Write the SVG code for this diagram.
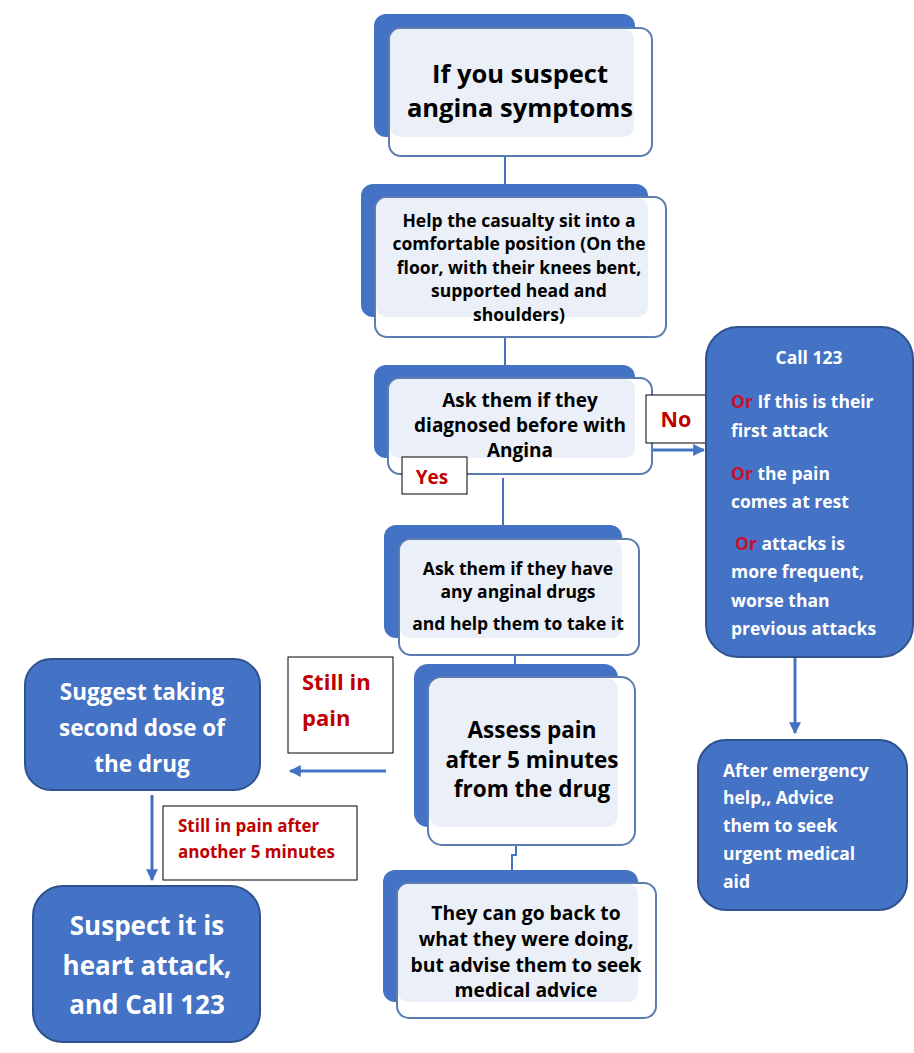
<svg xmlns="http://www.w3.org/2000/svg" width="914" height="1053" viewBox="0 0 914 1053">
<style>
text{font-family:"Open Sans",Lato,"Liberation Sans",sans-serif;font-weight:bold}
.back{fill:#4472C4}
.front{fill:#FFFFFF;stroke:#5B7DB1;stroke-width:2}
.inner{fill:#EAEFF8}
.dark{fill:#000000;text-anchor:middle}
.blue{fill:#4472C4;stroke:#2F528F;stroke-width:2}
.wt{fill:#FFFFFF}
.wtc{fill:#FFFFFF;text-anchor:middle}
.red{fill:#C00000}
.or{fill:#C8102E}
.lbl{fill:#FFFFFF;stroke:#000000;stroke-width:1}
.con{fill:none;stroke:#4472C4;stroke-width:3}
.thin{fill:none;stroke:#4472C4;stroke-width:2}
</style>
<defs>
<marker id="ah" viewBox="0 0 10 10" refX="9" refY="5" markerWidth="4" markerHeight="4" orient="auto" markerUnits="strokeWidth">
<path d="M0,0 L10,5 L0,10 z" fill="#4472C4"/>
</marker>
</defs>

<g id="connectors">
<path class="thin" d="M505,150 V197"/>
<path class="thin" d="M505,330 V378"/>
<path class="thin" d="M503,478 V539"/>
<path class="thin" d="M515,650 V677"/>
<path class="thin" d="M516,838 V855 H512 V883"/>
<path class="con" d="M652,450 H704" marker-end="url(#ah)"/>
<path class="con" d="M795,658 V733" marker-end="url(#ah)"/>
<path class="con" d="M386,771 H290" marker-end="url(#ah)"/>
<path class="con" d="M152,795 V880" marker-end="url(#ah)"/>
</g>

<g id="n1">
<rect class="back" x="374" y="14" width="261" height="123" rx="12"/>
<rect class="front" x="389" y="28" width="263" height="128" rx="12"/>
<rect class="inner" x="390" y="29" width="244" height="108" rx="10"/>
<text class="dark" font-size="25.5" x="520" y="83">If you suspect</text>
<text class="dark" font-size="25.5" x="520" y="117">angina symptoms</text>
</g>

<g id="n2">
<rect class="back" x="361" y="184" width="287" height="133" rx="12"/>
<rect class="front" x="375" y="197" width="291" height="140" rx="12"/>
<rect class="inner" x="376" y="198" width="272" height="119" rx="10"/>
<text class="dark" font-size="17.5" x="519" y="227">Help the casualty sit into a</text>
<text class="dark" font-size="17.5" x="519" y="250">comfortable position (On the</text>
<text class="dark" font-size="17.5" x="519" y="274">floor, with their knees bent,</text>
<text class="dark" font-size="17.5" x="519" y="297">supported head and</text>
<text class="dark" font-size="17.5" x="519" y="321">shoulders)</text>
</g>

<g id="n3">
<rect class="back" x="374" y="365" width="261" height="93" rx="12"/>
<rect class="front" x="388" y="378" width="264" height="96" rx="12"/>
<rect class="inner" x="389" y="379" width="246" height="79" rx="10"/>
<text class="dark" font-size="19" x="520" y="407">Ask them if they</text>
<text class="dark" font-size="19" x="520" y="432">diagnosed before with</text>
<text class="dark" font-size="19" x="520" y="457">Angina</text>
</g>

<g id="lbl-no">
<rect class="lbl" x="646" y="395" width="63" height="48"/>
<text class="red" font-size="21.5" x="676" y="427" text-anchor="middle">No</text>
</g>

<g id="lbl-yes">
<rect class="lbl" x="402" y="457" width="65" height="37"/>
<text class="red" font-size="19" x="432" y="484" text-anchor="middle">Yes</text>
</g>

<g id="n-call">
<rect class="blue" x="706" y="327" width="207" height="330" rx="32"/>
<text class="wtc" font-size="17.5" x="809" y="364">Call 123</text>
<text class="wt" font-size="17.5" x="731" y="408"><tspan class="or">Or</tspan> If this is their</text>
<text class="wt" font-size="17.5" x="731" y="437">first attack</text>
<text class="wt" font-size="17.5" x="731" y="480"><tspan class="or">Or</tspan> the pain</text>
<text class="wt" font-size="17.5" x="731" y="508">comes at rest</text>
<text class="wt" font-size="17.5" x="735" y="550"><tspan class="or">Or</tspan> attacks is</text>
<text class="wt" font-size="17.5" x="731" y="578">more frequent,</text>
<text class="wt" font-size="17.5" x="731" y="607">worse than</text>
<text class="wt" font-size="17.5" x="731" y="635">previous attacks</text>
</g>

<g id="n-after">
<rect class="blue" x="698" y="740" width="209" height="170" rx="28"/>
<text class="wt" font-size="17.5" x="723" y="777">After emergency</text>
<text class="wt" font-size="17.5" x="723" y="804">help,, Advice</text>
<text class="wt" font-size="17.5" x="723" y="832">them to seek</text>
<text class="wt" font-size="17.5" x="723" y="860">urgent medical</text>
<text class="wt" font-size="17.5" x="723" y="888">aid</text>
</g>

<g id="n4">
<rect class="back" x="384" y="525" width="238" height="113" rx="12"/>
<rect class="front" x="399" y="539" width="240" height="116" rx="12"/>
<rect class="inner" x="400" y="540" width="222" height="98" rx="10"/>
<text class="dark" font-size="17.5" x="518" y="575">Ask them if they have</text>
<text class="dark" font-size="17.5" x="518" y="598">any anginal drugs</text>
<text class="dark" font-size="17.5" x="518" y="630">and help them to take it</text>
</g>

<g id="n5">
<rect class="back" x="414" y="664" width="204" height="163" rx="14"/>
<rect class="front" x="428" y="677" width="207" height="168" rx="14"/>
<rect class="inner" x="429" y="678" width="189" height="149" rx="12"/>
<text class="dark" font-size="22.5" x="532" y="738">Assess pain</text>
<text class="dark" font-size="22.5" x="532" y="768">after 5 minutes</text>
<text class="dark" font-size="22.5" x="532" y="797">from the drug</text>
</g>

<g id="n6">
<rect class="back" x="383" y="870" width="255" height="132" rx="12"/>
<rect class="front" x="397" y="883" width="259" height="135" rx="12"/>
<rect class="inner" x="398" y="884" width="240" height="118" rx="10"/>
<text class="dark" font-size="19.3" x="526" y="920">They can go back to</text>
<text class="dark" font-size="19.3" x="526" y="946">what they were doing,</text>
<text class="dark" font-size="19.3" x="526" y="972">but advise them to seek</text>
<text class="dark" font-size="19.3" x="526" y="997">medical advice</text>
</g>

<g id="lbl-still">
<rect class="lbl" x="288" y="657" width="105" height="96"/>
<text class="red" font-size="22" x="302" y="690">Still in</text>
<text class="red" font-size="22" x="302" y="726">pain</text>
</g>

<g id="n-second">
<rect class="blue" x="25" y="659" width="235" height="131" rx="26"/>
<text class="wtc" font-size="22.5" x="142" y="700">Suggest taking</text>
<text class="wtc" font-size="22.5" x="142" y="736">second dose of</text>
<text class="wtc" font-size="22.5" x="142" y="772">the drug</text>
</g>

<g id="lbl-still2">
<rect class="lbl" x="163" y="806" width="194" height="74"/>
<text class="red" font-size="17" x="178" y="832">Still in pain after</text>
<text class="red" font-size="17" x="178" y="858">another 5 minutes</text>
</g>

<g id="n-heart">
<rect class="blue" x="33" y="886" width="227" height="156" rx="30"/>
<text class="wtc" font-size="26" x="147" y="935">Suspect it is</text>
<text class="wtc" font-size="26" x="147" y="975">heart attack,</text>
<text class="wtc" font-size="26" x="147" y="1014">and Call 123</text>
</g>
</svg>
